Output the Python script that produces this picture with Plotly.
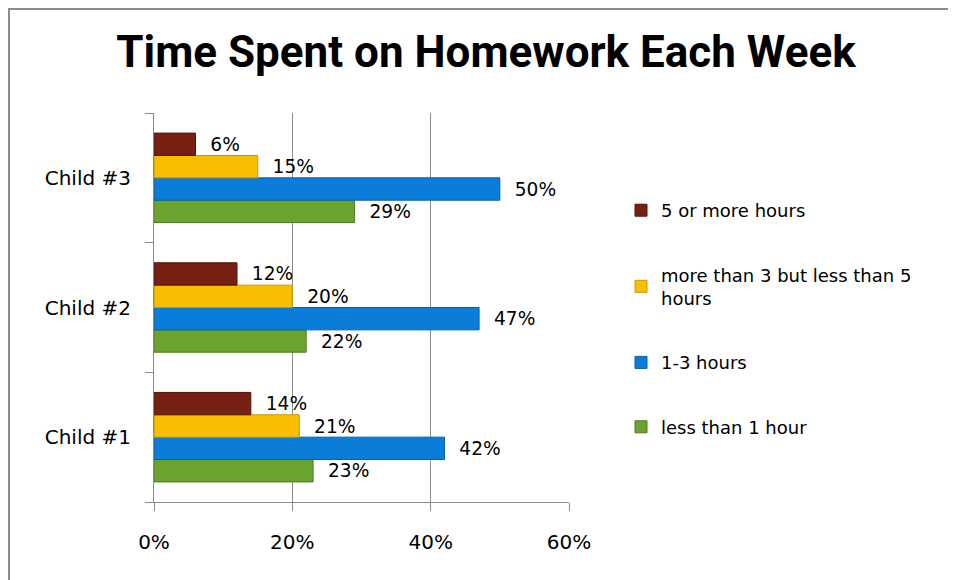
import plotly.graph_objects as go

children = ["Child #1", "Child #2", "Child #3"]
series_names = ["less than 1 hour", "1-3 hours", "more than 3 but less than 5<br>hours", "5 or more hours"]
less_than_1 = [23, 22, 29]
one_to_three = [42, 47, 50]
three_to_five = [21, 20, 15]
five_plus = [14, 12, 6]
x_ticks = [0, 20, 40, 60]
x_tick_labels = ["0%", "20%", "40%", "60%"]

colors = ["#6AA42E", "#0A7DD8", "#F9BE00", "#762014"]
edge = ["#4E7D1E", "#0660A8", "#C99600", "#541409"]
values = [less_than_1, one_to_three, three_to_five, five_plus]

FONT = "'DejaVu Sans', sans-serif"

fig = go.Figure()
for i, (name, vals) in enumerate(zip(series_names, values)):
    fig.add_trace(go.Bar(
        y=children, x=vals, name=name, orientation="h",
        marker=dict(color=colors[i], line=dict(color=edge[i], width=1)),
        text=[f"{v}%" for v in vals],
        texttemplate="\u00a0\u00a0%{text}",
        textposition="outside", cliponaxis=False,
        textfont=dict(size=20, color="black", family=FONT),
        legendgroup=f"g{i}", legendrank=4 - i,
    ))

fig.update_layout(
    width=956, height=580,
    margin=dict(l=146, r=395, t=105, b=86),
    paper_bgcolor="white", plot_bgcolor="white",
    barmode="group", bargap=0.31, bargroupgap=0,
    title=dict(text="<b>Time Spent on Homework Each Week</b>",
               font=dict(family="Roboto, sans-serif", size=44, color="black"),
               x=478/956, xanchor="center", xref="container",
               y=1 - 44/580, yanchor="middle", yref="container"),
    legend=dict(traceorder="grouped", tracegroupgap=38,
                font=dict(family=FONT, size=18, color="black"),
                xref="container", yref="container",
                x=613/956, xanchor="left", y=1 - 184/580, yanchor="top",
                bgcolor="rgba(0,0,0,0)"),
    showlegend=True,
    font=dict(family=FONT, color="black"),
)
fig.update_xaxes(range=[0, 60], tickvals=x_ticks, ticktext=x_tick_labels,
                 showgrid=True, gridcolor="#8C8C8C", gridwidth=1, zeroline=False,
                 showline=True, linecolor="#8C8C8C", linewidth=1,
                 ticks="outside", ticklen=8, tickcolor="#8C8C8C",
                 ticklabelstandoff=14, tickfont=dict(size=20, family=FONT))
fig.update_yaxes(showgrid=False, showline=True, linecolor="#8C8C8C", linewidth=1,
                 ticks="outside", ticklen=8, tickcolor="#8C8C8C", tickson="boundaries",
                 ticklabelstandoff=18, tickfont=dict(size=20, family=FONT))

fig.add_shape(type="rect", xref="paper", yref="paper",
              x0=-145 / 415, x1=(1000 - 146) / 415,
              y0=-(86 + 60) / 389, y1=1 + 104 / 389,
              line=dict(color="#8C8C8C", width=2), fillcolor="rgba(0,0,0,0)", layer="below")

fig.write_html("out.html")
